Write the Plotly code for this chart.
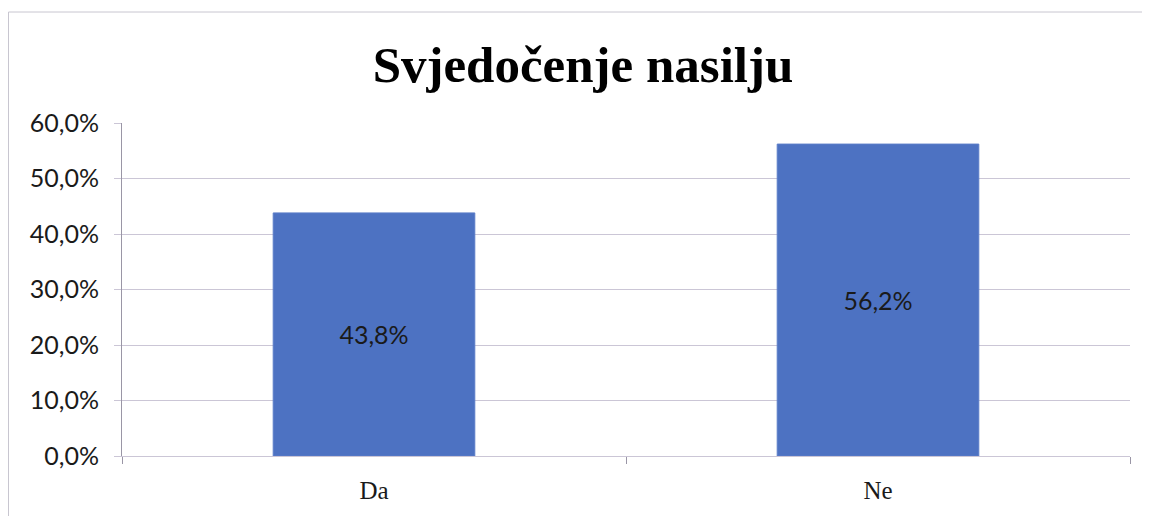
import plotly.graph_objects as go

# Chart data
categories = ["Da", "Ne"]
values = [43.8, 56.2]
value_labels = ["43,8%", "56,2%"]
tick_values = [0, 10, 20, 30, 40, 50, 60]
tick_labels = ["0,0%", "10,0%", "20,0%", "30,0%", "40,0%", "50,0%", "60,0%"]

bar_color = "#4D72C2"
grid_color = "#CBC6D6"
sans = "Lato, 'Open Sans', sans-serif"
serif = "'Liberation Serif', 'DejaVu Serif', serif"

# page has an 8px body margin, so the figure is sized / offset for it
W, H = 1142, 508

fig = go.Figure(
    go.Bar(
        x=categories,
        y=values,
        text=value_labels,
        textposition="inside",
        insidetextanchor="middle",
        textfont=dict(family=sans, size=25, color="#1a1a1a"),
        marker=dict(color=bar_color, line=dict(color="#5B7DC8", width=1)),
        hoverinfo="skip",
    )
)

fig.update_layout(
    width=W,
    height=H,
    margin=dict(l=114, r=W - 1122, t=115, b=H - 448, autoexpand=False),
    paper_bgcolor="white",
    plot_bgcolor="white",
    bargap=0.6,
    showlegend=False,
    title=dict(
        text="<b>Svjedočenje nasilju</b>",
        font=dict(family=serif, size=51, color="black"),
        xref="container",
        yref="container",
        x=575 / W,
        y=1 - 56 / H,
        xanchor="center",
        yanchor="middle",
    ),
)

fig.update_xaxes(
    showgrid=False,
    showline=True,
    linecolor=grid_color,
    linewidth=1,
    ticks="outside",
    tickson="boundaries",
    ticklen=7,
    tickcolor="#9a96a6",
    ticklabelstandoff=12,
    tickfont=dict(family=serif, size=25, color="#1a1a1a"),
)

fig.update_yaxes(
    range=[0, 60],
    tickvals=tick_values,
    ticktext=tick_labels,
    showgrid=True,
    gridcolor=grid_color,
    gridwidth=1,
    showline=True,
    linecolor="#9a96a6",
    linewidth=1,
    ticks="outside",
    ticklen=7,
    tickcolor=grid_color,
    ticklabelstandoff=10,
    tickfont=dict(family=sans, size=25, color="#1a1a1a"),
    zeroline=False,
)

# Outer chart border (top and left edges visible in the original)
fig.add_shape(
    type="rect",
    xref="paper",
    yref="paper",
    x0=(0.5 - 114) / 1008,
    x1=1.2,
    y0=-0.5,
    y1=(448 - 4) / 333,
    line=dict(color="#C8C6D0", width=1),
    layer="below",
)

fig.write_html("out.html")
